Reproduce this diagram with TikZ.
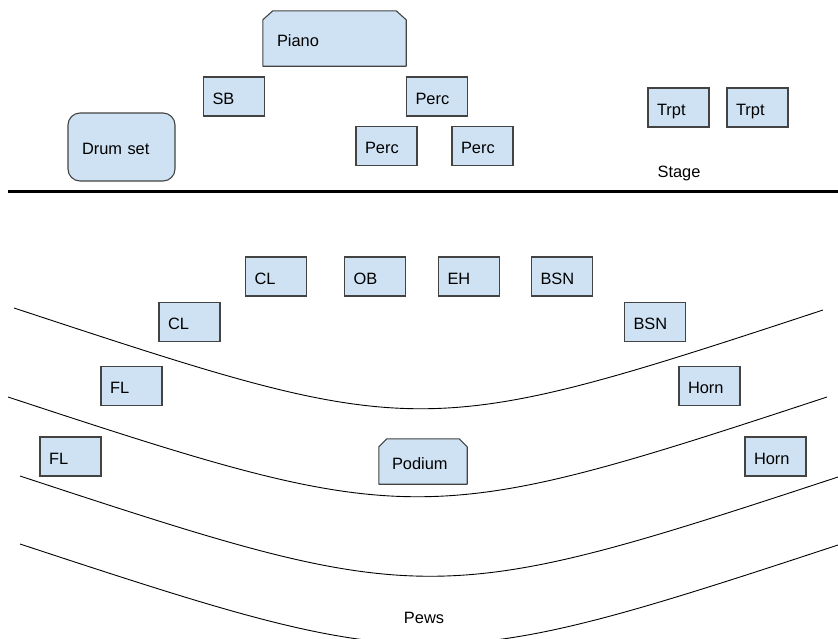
\documentclass[tikz,border=0pt]{standalone}
\usepackage{fontspec}
\setmainfont{Liberation Sans}
\usetikzlibrary{backgrounds}
\definecolor{boxfill}{HTML}{CFE2F3}
\definecolor{boxdraw}{HTML}{434343}
\begin{document}
\begin{tikzpicture}[x=1pt,y=-1pt,
  font=\fontsize{16.4}{19.7}\selectfont,
  boxbase/.style={minimum height=39pt, inner ysep=0pt, align=left, text height=15.5pt, text depth=0pt},
  seat/.style={boxbase, draw=boxdraw, fill=boxfill, line width=1.1pt, minimum width=61pt, inner xsep=9pt, text width=43pt},
  chamf/.style={draw=boxdraw, fill=boxfill, line width=1.1pt, line join=round},
  pew/.style={draw=black, line width=0.9pt},
  lbl/.style={inner sep=0pt}]
\useasboundingbox (0,0) rectangle (838,638);

% stage line
\coordinate (stageL) at (8,191);
\coordinate (stageR) at (838,191);
\draw[line width=3pt] (stageL) -- (stageR);
\node[lbl] (stage) at (679,173) {Stage};

% pews
\begin{scope}
\clip (0,0) rectangle (838,638);
\draw[pew] (14,308) .. controls (418,441) and (419,443) .. (823,310);
\draw[pew] (8,397) .. controls (412,530) and (423,530) .. (827,397);
\draw[pew] (20,476) .. controls (424,609) and (434,610) .. (838,477);
\draw[pew] (20,544) .. controls (424,677) and (434,678) .. (838,545);
\end{scope}
\node[lbl] (pews) at (424,618) {Pews};

% piano (chamfered)
\node[boxbase, minimum width=143pt, minimum height=55pt, inner xsep=14pt, text width=115pt] (piano) at (334.5,38.5) {Piano};
% drum set (rounded)
\node[boxbase, draw=boxdraw, fill=boxfill, line width=1.1pt, rounded corners=12pt, minimum width=107pt, minimum height=68pt, inner xsep=14pt, text width=79pt] (drums) at (121.5,147) {Drum set};
% podium (chamfered)
\node[boxbase, minimum width=88pt, minimum height=45pt, inner xsep=13pt, text width=62pt] (podium) at (423,461.5) {Podium};

\begin{scope}[on background layer]
\fill[white] (0,0) rectangle (838,638);
\draw[chamf] ([yshift=-9pt]piano.north west) -- ([xshift=10pt]piano.north west) -- ([xshift=-10pt]piano.north east) -- ([yshift=-9pt]piano.north east) -- (piano.south east) -- (piano.south west) -- cycle;
\draw[chamf] ([yshift=-8pt]podium.north west) -- ([xshift=8pt]podium.north west) -- ([xshift=-8pt]podium.north east) -- ([yshift=-8pt]podium.north east) -- (podium.south east) -- (podium.south west) -- cycle;
\end{scope}

% seats
\node[seat] (sb) at (234,96.5) {SB};
\node[seat] (perc1) at (437,96.5) {Perc};
\node[seat] (perc2) at (386.5,146) {Perc};
\node[seat] (perc3) at (482.5,146) {Perc};
\node[seat] (trpt1) at (678.5,107.5) {Trpt};
\node[seat] (trpt2) at (757.5,107.5) {Trpt};

\node[seat] (cl1) at (276,276.5) {CL};
\node[seat] (ob) at (375,276.5) {OB};
\node[seat] (eh) at (469,276.5) {EH};
\node[seat] (bsn1) at (562,276.5) {BSN};
\node[seat] (cl2) at (189.5,322) {CL};
\node[seat] (bsn2) at (655,322) {BSN};
\node[seat] (fl1) at (131.5,386) {FL};
\node[seat] (horn1) at (709.5,386) {Horn};
\node[seat] (fl2) at (70.5,456.5) {FL};
\node[seat] (horn2) at (775.5,456.5) {Horn};
\end{tikzpicture}
\end{document}
